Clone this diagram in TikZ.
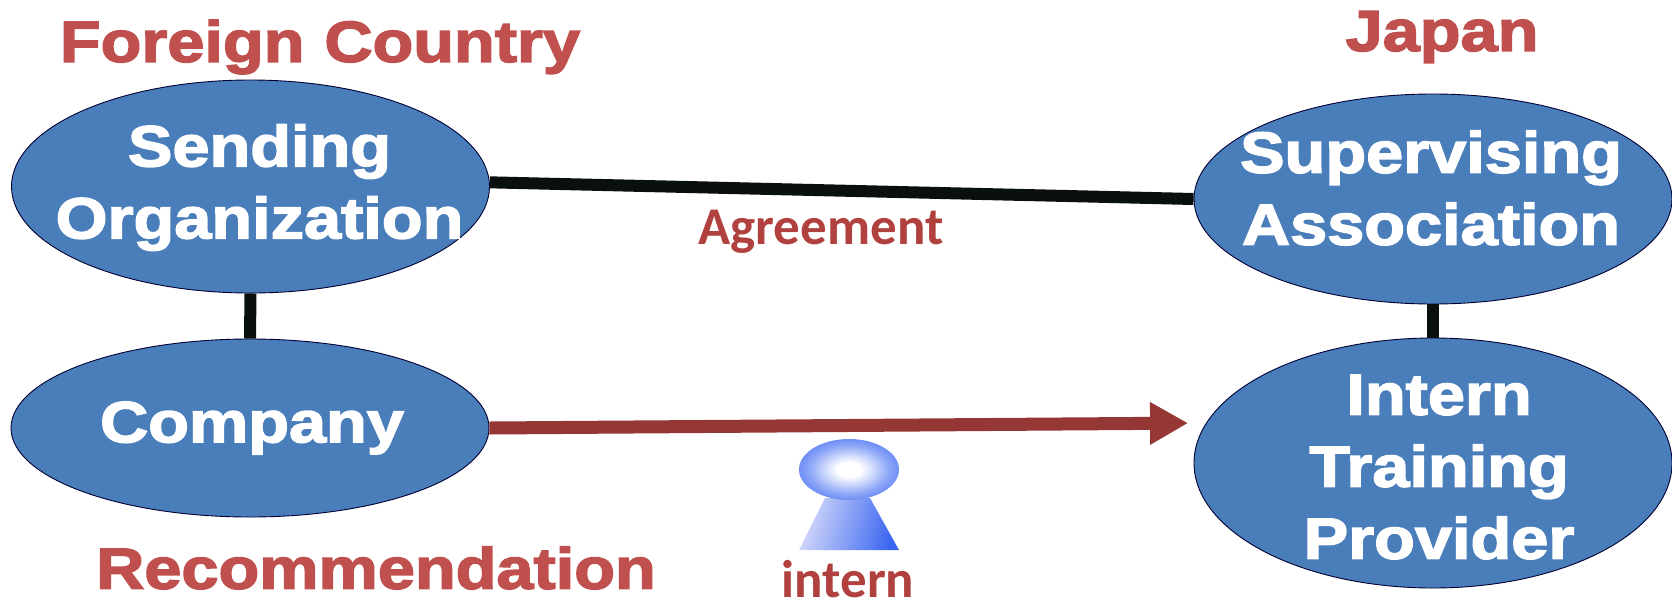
\documentclass[tikz,border=0pt]{standalone}
\usepackage{fontspec}
\usetikzlibrary{shapes.geometric,arrows.meta}
\setmainfont{Liberation Sans}
\newfontfamily\heavyfont[BoldFont={Liberation Sans Bold},BoldFeatures={FakeBold=2.6,FakeStretch=1.15}]{Liberation Sans}
\newfontfamily\softfont{Carlito}
\definecolor{orgblue}{HTML}{4A7EBB}
\definecolor{headred}{HTML}{C0504D}
\definecolor{arrowred}{HTML}{953735}
\definecolor{softred}{HTML}{B0413E}
\definecolor{lineblack}{HTML}{0A1010}
\definecolor{internblue}{HTML}{3A66F0}
\definecolor{conelight}{HTML}{D5D9FA}
\pgfdeclareradialshading{internhead}{\pgfpoint{0bp}{0bp}}{%
  rgb(0bp)=(1,1,1); rgb(6bp)=(1,1,1); rgb(20bp)=(0.55,0.65,0.97);
  rgb(34bp)=(0.23,0.40,0.94); rgb(100bp)=(0.23,0.40,0.94)}
\tikzset{
  orgnode/.style={ellipse,draw=black!80!blue,line width=0.9pt,fill=orgblue,inner sep=0pt},
  orgtext/.style={text=white,inner sep=0pt,align=center,font=\heavyfont\bfseries\fontsize{58}{72}\selectfont},
  headtext/.style={text=headred,inner sep=0pt,font=\heavyfont\bfseries\fontsize{58}{64}\selectfont},
  softtext/.style={text=softred,inner sep=0pt,font=\softfont\bfseries\fontsize{53}{58}\selectfont},
  tie/.style={draw=lineblack,line width=12pt},
  flow/.style={draw=arrowred,line width=13pt,-{Triangle[length=38pt,width=40pt]}}
}
\begin{document}
\begin{tikzpicture}[x=1pt,y=-1pt]
\useasboundingbox (0,0) rectangle (1672,603);
\node[orgnode,minimum width=478pt,minimum height=213pt,label={[orgtext,xshift=9pt,yshift=-1pt]center:Sending\\Organization}] (so) at (250.5,186.5) {};
\node[orgnode,minimum width=478pt,minimum height=178pt,label={[orgtext,xshift=2pt,yshift=0pt]center:Company}] (co) at (250,428) {};
\node[orgnode,minimum width=478pt,minimum height=210pt,label={[orgtext,xshift=-2pt,yshift=11pt]center:Supervising\\Association}] (sa) at (1433,199) {};
\node[orgnode,minimum width=478pt,minimum height=250pt,label={[orgtext,xshift=6pt,yshift=-4pt]center:Intern\\Training\\Provider}] (ip) at (1433,463) {};
\draw[tie] (so.1) -- (sa.west);
\draw[tie] (so.south) -- (co.north);
\draw[tie] (sa.south) -- (ip.north -| sa.south);
\draw[flow,shorten >=18pt] (co.east) -- (ip.170);
\node[headtext] (fc) at (320,47) {Foreign\hspace{20pt}Country};
\node[headtext] (jp) at (1442,37) {Japan};
\node[headtext] (re) at (376,568) {Recommendation};
\node[softtext] (ag) at (821,232) {Agreement};
\node[softtext] (in) at (848,579) {intern};
\shade[left color=conelight,right color=internblue,shading angle=75] (825,498) -- (870,498) -- (899,550) -- (799,550) -- cycle;
\node[ellipse,minimum width=100pt,minimum height=61pt,inner sep=0pt,shading=internhead] (hd) at (849,469.5) {};
\end{tikzpicture}
\end{document}
